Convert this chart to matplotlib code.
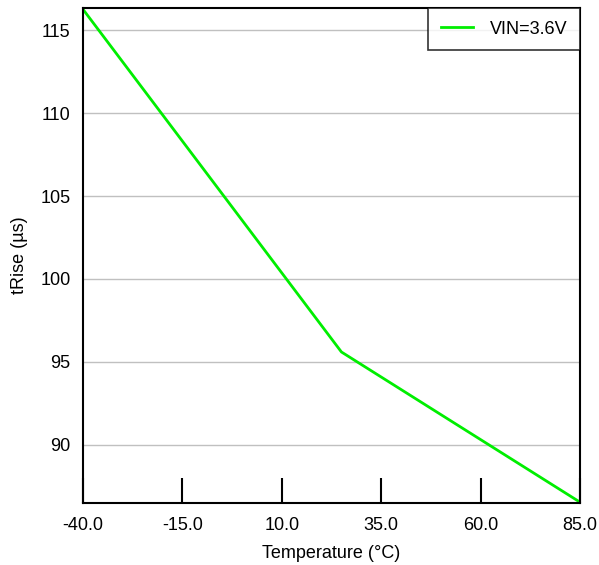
import matplotlib
matplotlib.use("Agg")
import matplotlib.pyplot as plt

plt.rcParams['font.family'] = ['Liberation Sans', 'DejaVu Sans']

temperature = [-40, 25, 85]
t_rise = [116.25, 95.6, 86.55]
x_ticks = [-40, -15, 10, 35, 60, 85]
y_ticks = [90, 95, 100, 105, 110, 115]

fig = plt.figure(figsize=(5.99, 5.65), dpi=100)
ax = fig.add_axes([83 / 599, 1 - 503 / 565, 497 / 599, 495 / 565])

ax.plot(temperature, t_rise, color="#00ee00", linewidth=2, label="VIN=3.6V")

ax.set_xlim(-40, 85)
ax.set_ylim(86.5, 116.33)
ax.set_xticks(x_ticks)
ax.set_xticklabels([f"{t:.1f}" for t in x_ticks])
ax.set_yticks(y_ticks)
ax.grid(axis="y", color="#c0c0c0", linewidth=1)
ax.set_axisbelow(True)

ax.tick_params(axis="x", direction="in", length=18, width=1.5, pad=10, labelsize=13)
ax.tick_params(axis="y", length=0, pad=9, labelsize=13)
for side in ["left", "bottom", "top", "right"]:
    ax.spines[side].set_linewidth(1.5)
    ax.spines[side].set_color("black")

ax.set_xlabel("Temperature (°C)", fontsize=13, labelpad=8)
ax.set_ylabel("tRise (µs)", fontsize=13, labelpad=9)

leg = ax.legend(loc="upper right", fontsize=13, frameon=True, fancybox=False,
                borderaxespad=0, handlelength=1.8, borderpad=0.7, handletextpad=0.9)
leg.get_frame().set_edgecolor("black")
leg.get_frame().set_linewidth(1.2)

fig.savefig("out.png", dpi=100)
